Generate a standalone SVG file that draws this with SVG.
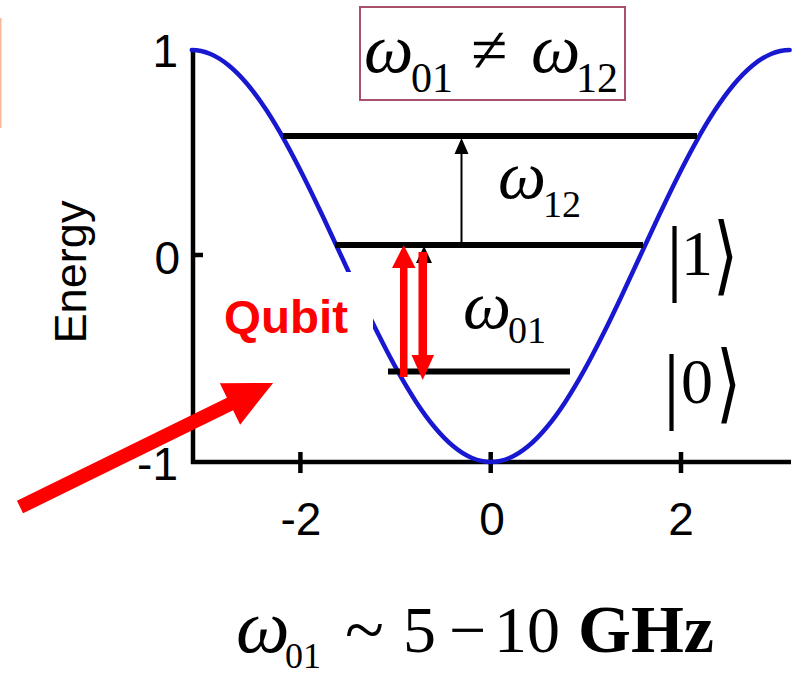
<svg xmlns="http://www.w3.org/2000/svg" width="808" height="677" viewBox="0 0 808 677">
<style>
.ax{stroke:#000;stroke-width:4.5;fill:none}
.lvl{stroke:#000;stroke-width:6;fill:none}
.tick{font-family:"Liberation Sans",Arial,sans-serif;font-size:46px;fill:#000}
.m{font-family:"Liberation Serif","Times New Roman",serif;fill:#000}
.it{font-style:italic}
.red{fill:#ff0000}
.br{font-family:"DejaVu Serif","DejaVu Sans",serif;fill:#000}
</style>
<rect x="0" y="0" width="808" height="677" fill="#fff"/>
<line x1="0.7" y1="18" x2="0.7" y2="128" stroke="#f6b995" stroke-width="1.6"/>
<g id="axes">
<line class="ax" x1="193" y1="48" x2="193" y2="464"/>
<line class="ax" x1="191" y1="462" x2="791" y2="462"/>
<line class="ax" x1="193" y1="255" x2="203" y2="255"/>
<line class="ax" x1="300.4" y1="452" x2="300.4" y2="473"/>
<line class="ax" x1="490.7" y1="452" x2="490.7" y2="473"/>
<line class="ax" x1="681" y1="452" x2="681" y2="473"/>
<text class="tick" x="178" y="67" text-anchor="end">1</text>
<text class="tick" x="180" y="274" text-anchor="end">0</text>
<text class="tick" x="178" y="480" text-anchor="end">-1</text>
<text class="tick" x="301" y="535" text-anchor="middle">-2</text>
<text class="tick" x="492" y="535" text-anchor="middle">0</text>
<text class="tick" x="681" y="535" text-anchor="middle">2</text>
<text class="tick" transform="translate(86,272) rotate(-90)" text-anchor="middle" style="font-size:44px" textLength="143" lengthAdjust="spacingAndGlyphs">Energy</text>
</g>
<g id="curve">
<path fill="none" stroke="#1818d0" stroke-width="4.5" stroke-linecap="round" d="M191.77,50 C198,50 204.22,51.33 210.45,53.96 S222.91,60.52 229.14,65.68 S241.59,77.23 247.82,84.72 S260.27,100.81 266.5,110.34 S278.96,130.34 285.19,141.55 S297.64,164.71 303.87,177.17 S316.32,202.59 322.55,215.81 S335.01,242.52 341.24,256 S353.69,282.97 359.92,296.19 S372.37,322.37 378.6,334.83 S391.05,359.24 397.28,370.45 S409.74,392.13 415.97,401.66 S428.42,419.79 434.65,427.28 S447.1,441.16 453.33,446.32 S465.79,455.41 472.02,458.04 S484.47,462 490.7,462 S503.15,460.67 509.38,458.04 S521.84,451.48 528.07,446.32 S540.52,434.77 546.75,427.28 S559.2,411.19 565.43,401.66 S577.89,381.66 584.12,370.45 S596.57,347.29 602.8,334.83 S615.25,309.41 621.48,296.19 S633.93,269.48 640.16,256 S652.62,229.03 658.85,215.81 S671.3,189.63 677.53,177.17 S689.98,152.76 696.21,141.55 S708.67,119.87 714.9,110.34 S727.35,92.21 733.58,84.72 S746.03,70.84 752.26,65.68 S764.72,56.59 770.95,53.96 S783.4,50 789.63,50"/>
</g>
<g id="levels">
<line class="lvl" x1="283" y1="136" x2="697" y2="136"/>
<line class="lvl" x1="335" y1="245" x2="643" y2="245"/>
<line class="lvl" x1="388" y1="371.5" x2="570" y2="371.5"/>
</g>
<g id="state-labels">
<text class="m" x="666" y="285" font-size="85">|</text>
<text class="m" x="697" y="275" font-size="64" text-anchor="middle">1</text>
<text class="br" transform="translate(713,284) scale(0.75,1)" font-size="86">⟩</text>
<text class="m" x="663" y="413" font-size="85">|</text>
<text class="m" x="697" y="403" font-size="64" text-anchor="middle">0</text>
<text class="br" transform="translate(716,412) scale(0.75,1)" font-size="86">⟩</text>
</g>
<g id="inequality-box">
<rect x="360" y="7" width="265" height="93" fill="none" stroke="#a8506a" stroke-width="2"/>
<text class="m it" x="364" y="72" font-size="70">ω</text>
<text class="m" x="411" y="92" font-size="42">01</text>
<text class="m" x="471" y="72" font-size="66">≠</text>
<text class="m it" x="531" y="72" font-size="70">ω</text>
<text class="m" x="576" y="92" font-size="42">12</text>
</g>
<g id="connectors">
<line x1="461.5" y1="245" x2="461.5" y2="150" stroke="#000" stroke-width="2"/>
<polygon points="461.5,138 454.5,154 468.5,154" fill="#000"/>
<line x1="424" y1="372" x2="424" y2="260" stroke="#000" stroke-width="2"/>
<polygon points="424,246 416,263 432,263" fill="#000"/>
</g>
<g id="transition-labels">
<text class="m it" x="498" y="198" font-size="68">ω</text>
<text class="m" x="543" y="217" font-size="38">12</text>
<text class="m it" x="463" y="328" font-size="68">ω</text>
<text class="m" x="508" y="343" font-size="38">01</text>
</g>
<g id="qubit">
<rect x="203" y="272" width="170" height="85" fill="#fff"/>
<text x="224" y="333" font-size="47" font-weight="bold" class="red" style="font-family:'Liberation Sans',Arial,sans-serif" textLength="124" lengthAdjust="spacingAndGlyphs">Qubit</text>
</g>
<g id="red-arrows">
<rect x="400" y="264" width="7.5" height="113" class="red"/>
<polygon points="403.7,245 392,268 415.5,268" class="red"/>
<rect x="418.5" y="252" width="8.5" height="105" class="red"/>
<polygon points="422.7,380 411.5,355 434,355" class="red"/>
<polygon points="16.92,500.72 226.92,397.72 219.87,383.35 273.1,382.9 240.13,424.65 233.08,410.28 23.08,513.28" class="red"/>
</g>
<g id="frequency">
<text class="m it" x="236" y="652" font-size="76">ω</text>
<text class="m" x="285" y="668" font-size="36">01</text>
<text class="m" x="345" y="654" font-size="72">~</text>
<text class="m" x="403" y="652" font-size="66">5</text>
<text class="m" x="449" y="652" font-size="66">−</text>
<text class="m" x="494" y="652" font-size="66">10</text>
<text class="m" x="578" y="652" font-size="68" font-weight="bold">GHz</text>
</g>
</svg>
